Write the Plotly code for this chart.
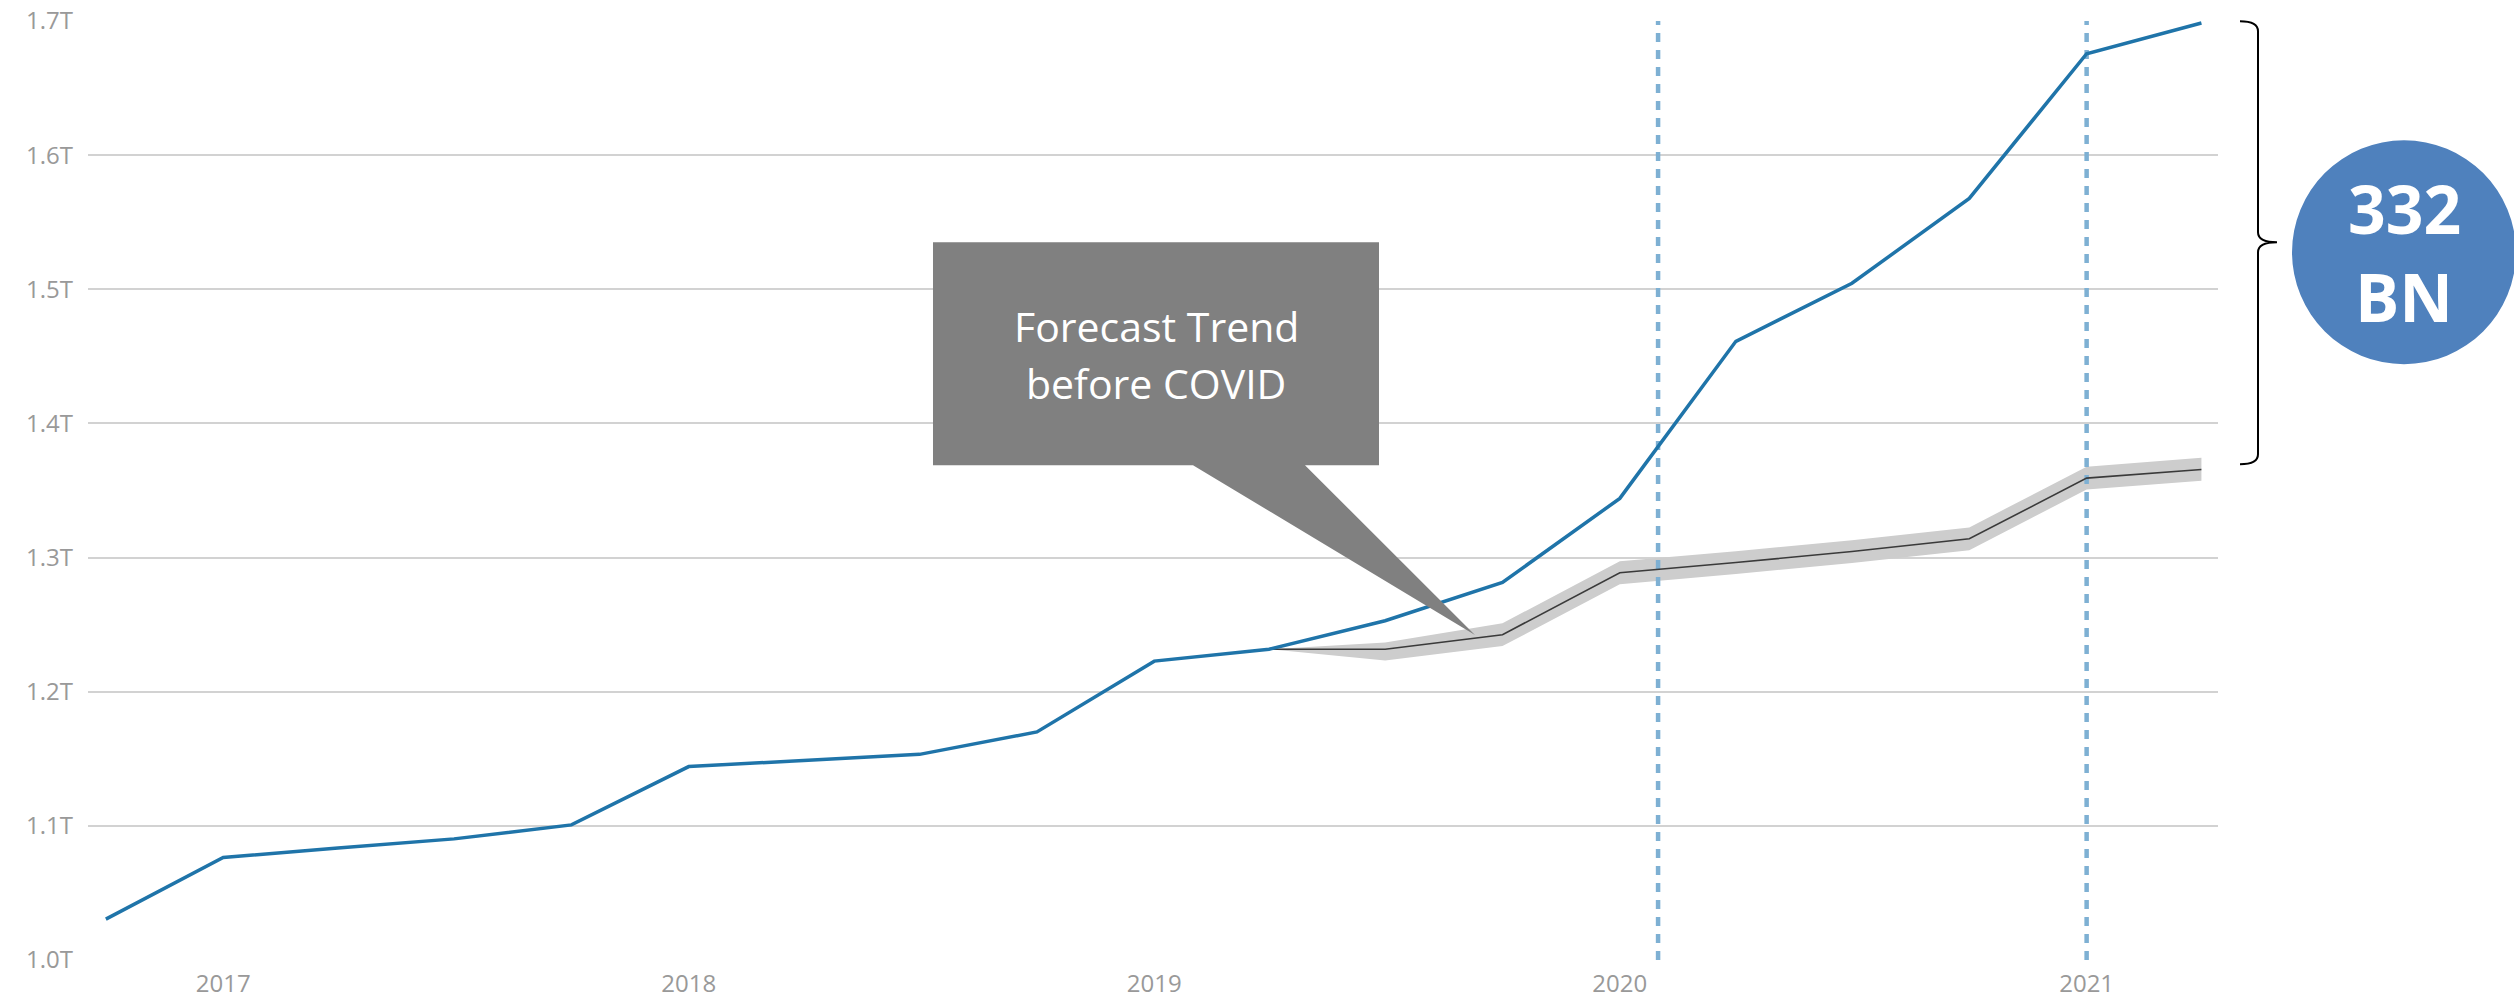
import plotly.graph_objects as go

# ---------------- data (values in trillions) ----------------
quarters = ["2016-10-01", "2017-01-01", "2017-04-01", "2017-07-01", "2017-10-01",
            "2018-01-01", "2018-04-01", "2018-07-01", "2018-10-01", "2019-01-01",
            "2019-04-01", "2019-07-01", "2019-10-01", "2020-01-01", "2020-04-01",
            "2020-07-01", "2020-10-01", "2021-01-01", "2021-04-01"]
actual = [1.0305, 1.0764, 1.0835, 1.0903, 1.1007, 1.1442, 1.1488, 1.1533, 1.1700,
          1.2228, 1.2317, 1.2529, 1.2815, 1.3441, 1.4612, 1.5045, 1.5677, 1.6756, 1.6985]

forecast_dates = ["2019-04-01", "2019-07-01", "2019-10-01", "2020-01-01", "2020-04-01",
                  "2020-07-01", "2020-10-01", "2021-01-01", "2021-04-01"]
forecast = [1.2317, 1.2317, 1.2425, 1.2887, 1.2963, 1.3045, 1.3140, 1.3592, 1.3657]
forecast_upper = [1.2317, 1.2367, 1.2510, 1.2972, 1.3048, 1.3130, 1.3225, 1.3677, 1.3745]
forecast_lower = [1.2317, 1.2232, 1.2340, 1.2802, 1.2878, 1.2960, 1.3055, 1.3507, 1.3572]

marker_dates = ["2020-01-31", "2021-01-01"]
year_ticks = ["2017-01-01", "2018-01-01", "2019-01-01", "2020-01-01", "2021-01-01"]
year_labels = ["2017", "2018", "2019", "2020", "2021"]
y_ticks = [1.0, 1.1, 1.2, 1.3, 1.4, 1.5, 1.6, 1.7]
y_labels = [f"{v:.1f}T" for v in y_ticks]

callout_text = ["Forecast Trend", "before COVID"]
gap_text = ["332", "BN"]

# ---------------- layout geometry ----------------
W, H = 2514, 1000
L, R, T, B = 88, 2218, 20.7, 960


def px(x):
    return (x - L) / (R - L)


def py(y):
    return (B - y) / (B - T)


fig = go.Figure()

# confidence band
fig.add_trace(go.Scatter(x=forecast_dates, y=forecast_upper, mode="lines",
                         line=dict(width=0, color="#CDCDCD"), hoverinfo="skip",
                         showlegend=False))
fig.add_trace(go.Scatter(x=forecast_dates, y=forecast_lower, mode="lines",
                         line=dict(width=0, color="#CDCDCD"), fill="tonexty",
                         fillcolor="#CDCDCD", hoverinfo="skip", showlegend=False))

# dotted vertical markers
for d in marker_dates:
    fig.add_trace(go.Scatter(x=[d, d], y=[1.0, 1.7], mode="lines",
                             line=dict(color="#7EB0D3", width=4.5, dash="9px,8px"),
                             hoverinfo="skip", showlegend=False))

# forecast line
fig.add_trace(go.Scatter(x=forecast_dates, y=forecast, mode="lines",
                         line=dict(color="#3A3A3A", width=1.6), showlegend=False))

# actual line
fig.add_trace(go.Scatter(x=quarters, y=actual, mode="lines",
                         line=dict(color="#1F74A9", width=3.5), showlegend=False))

# callout shape (box + pointer)
pts = [(933, 242), (1379, 242), (1379, 465), (1305, 465), (1475, 635), (1193, 465), (933, 465)]
path = "M " + " L ".join(f"{px(x):.5f},{py(y):.5f}" for x, y in pts) + " Z"
shapes = [dict(type="path", xref="paper", yref="paper", path=path,
               fillcolor="#808080", line=dict(width=0), layer="above")]

# curly bracket
bx, bxl, bxt = 2258, 2240, 2277
ytop, ymid, ybot = 21, 242, 464
br = (f"M {px(bxl):.5f},{py(ytop):.5f} "
      f"Q {px(bx):.5f},{py(ytop):.5f} {px(bx):.5f},{py(ytop + 10):.5f} "
      f"L {px(bx):.5f},{py(ymid - 10):.5f} "
      f"Q {px(bx):.5f},{py(ymid):.5f} {px(bxt):.5f},{py(ymid):.5f} "
      f"Q {px(bx):.5f},{py(ymid):.5f} {px(bx):.5f},{py(ymid + 10):.5f} "
      f"L {px(bx):.5f},{py(ybot - 10):.5f} "
      f"Q {px(bx):.5f},{py(ybot):.5f} {px(bxl):.5f},{py(ybot):.5f}")
shapes.append(dict(type="path", xref="paper", yref="paper", path=br,
                   line=dict(color="#000000", width=2), layer="above"))

# circle
shapes.append(dict(type="circle", xref="paper", yref="paper",
                   x0=px(2292), x1=px(2516), y0=py(364), y1=py(140),
                   fillcolor="#4F81BD", line=dict(width=0), layer="above"))

annotations = [
    dict(text=callout_text[0], xref="paper", yref="paper", x=px(1156), y=py(326),
         xanchor="center", yanchor="middle", showarrow=False,
         font=dict(family="Open Sans", size=41, color="white")),
    dict(text=callout_text[1], xref="paper", yref="paper", x=px(1156), y=py(383),
         xanchor="center", yanchor="middle", showarrow=False,
         font=dict(family="Open Sans", size=41, color="white")),
    dict(text="<b>" + gap_text[0] + "</b>", xref="paper", yref="paper", x=px(2404), y=py(208),
         xanchor="center", yanchor="middle", showarrow=False,
         font=dict(family="Open Sans", size=66, color="white")),
    dict(text="<b>" + gap_text[1] + "</b>", xref="paper", yref="paper", x=px(2404), y=py(296),
         xanchor="center", yanchor="middle", showarrow=False,
         font=dict(family="Open Sans", size=66, color="white")),
]

fig.update_layout(
    width=W, height=H,
    margin=dict(l=L, r=W - R, t=T, b=H - B, pad=0, autoexpand=False),
    paper_bgcolor="white", plot_bgcolor="white",
    showlegend=False,
    shapes=shapes, annotations=annotations,
    xaxis=dict(type="date", range=["2016-09-17", "2021-04-14"],
               tickvals=year_ticks, ticktext=year_labels, automargin=False,
               showgrid=False, zeroline=False, showline=False, ticks="",
               tickfont=dict(family="Open Sans", size=24, color="#999999"),
               ticklabelstandoff=7),
    yaxis=dict(range=[1.0, 1.7], tickvals=y_ticks, ticktext=y_labels, automargin=False,
               showgrid=True, gridcolor="#D2D2D2", gridwidth=2,
               zeroline=False, showline=False, ticks="",
               tickfont=dict(family="Open Sans", size=24, color="#999999"),
               ticklabelstandoff=14),
)

fig.write_html("out.html")
